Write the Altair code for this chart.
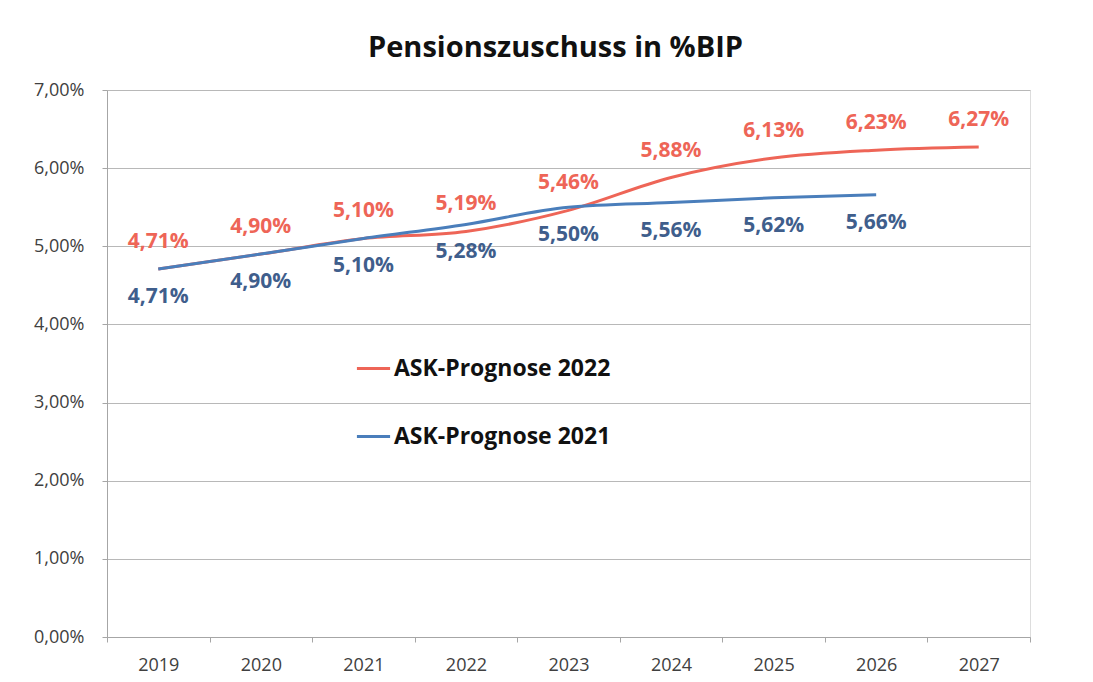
import altair as alt
import pandas as pd

years = ["2019", "2020", "2021", "2022", "2023", "2024", "2025", "2026", "2027"]
prog_2022 = [4.71, 4.90, 5.10, 5.19, 5.46, 5.88, 6.13, 6.23, 6.27]
prog_2021 = [4.71, 4.90, 5.10, 5.28, 5.50, 5.56, 5.62, 5.66]
series_names = ["ASK-Prognose 2022", "ASK-Prognose 2021"]
line_colors = ["#EE6557", "#4A7EBB"]
label_colors = ["#EE6557", "#3F5E8C"]

rows = []
for y, v in zip(years, prog_2022):
    rows.append({"Jahr": y, "Wert": v, "Serie": series_names[0]})
for y, v in zip(years, prog_2021):
    rows.append({"Jahr": y, "Wert": v, "Serie": series_names[1]})
df = pd.DataFrame(rows)

FONT = "Open Sans"

x_enc = alt.X("Jahr:O", sort=years, bandPosition=0.5,
              scale=alt.Scale(type="band", domain=years, paddingInner=0, paddingOuter=0),
              axis=alt.Axis(title=None, labelAngle=0, tickBand="extent", labelFontSize=18,
                            labelColor="#404040", labelPadding=14, domainColor="#a6a6a6",
                            tickColor="#a6a6a6", tickSize=5, grid=False, labelFont=FONT))
y_enc = alt.Y("Wert:Q", scale=alt.Scale(domain=[0, 7], nice=False),
              axis=alt.Axis(title=None, values=[0, 1, 2, 3, 4, 5, 6, 7],
                            labelExpr="replace(format(datum.value, '.2f'), '.', ',') + '%'",
                            labelFontSize=18, labelColor="#404040", labelPadding=18,
                            domainColor="#a6a6a6", tickColor="#a6a6a6", tickSize=5,
                            gridColor="#b8b8b8", gridWidth=1, labelFont=FONT))

lines = alt.Chart(df).mark_line(interpolate="monotone", strokeWidth=3).encode(
    x=x_enc, y=y_enc,
    color=alt.Color("Serie:N", scale=alt.Scale(domain=series_names, range=line_colors),
                    legend=alt.Legend(title=None, orient="none", legendX=248, legendY=260,
                                      symbolType="stroke", symbolSize=1100, symbolStrokeWidth=3,
                                      labelFontSize=23, labelFont=FONT, labelFontWeight="bold",
                                      labelColor="#111111", labelOffset=2, rowPadding=37,
                                      labelLimit=400)),
)

lab = alt.Chart(df).transform_calculate(
    txt="replace(format(datum.Wert, '.2f'), '.', ',') + '%'"
)

red_labels = lab.transform_filter(alt.datum.Serie == series_names[0]).mark_text(
    dy=-27, fontSize=21, fontWeight="bold", font=FONT, color=label_colors[0]
).encode(x=alt.X("Jahr:O", sort=years, bandPosition=0.5), y="Wert:Q", text="txt:N")

blue_labels = lab.transform_filter(alt.datum.Serie == series_names[1]).mark_text(
    dy=28, fontSize=21, fontWeight="bold", font=FONT, color=label_colors[1]
).encode(x=alt.X("Jahr:O", sort=years, bandPosition=0.5), y="Wert:Q", text="txt:N")

chart = alt.layer(lines, red_labels, blue_labels).properties(
    width=923, height=547,
    title=alt.TitleParams("Pensionszuschuss in %BIP", fontSize=29, font=FONT,
                          fontWeight="bold", color="#111111", offset=18, dx=-13),
    autosize=alt.AutoSizeParams(type="none"),
    padding={"left": 99, "top": 82, "right": 55, "bottom": 37},
).configure_view(stroke=None).configure(background="white")

chart.save("out.html", embed_options={"renderer": "svg", "actions": False})
